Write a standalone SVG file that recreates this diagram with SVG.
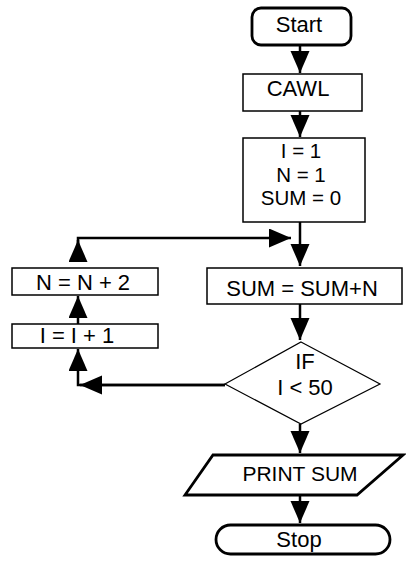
<svg xmlns="http://www.w3.org/2000/svg" width="406" height="563" viewBox="0 0 406 563">
<style>
text{font-family:"Liberation Sans",Arial,sans-serif;font-size:22px;fill:#000;text-anchor:middle}
.sm{font-size:20.5px}
.thin{fill:#fff;stroke:#000;stroke-width:1.5}
.thick{fill:#fff;stroke:#000;stroke-width:2.8}
.c{fill:none;stroke:#000;stroke-width:2.5}
</style>
<defs>
<marker id="ah" markerUnits="userSpaceOnUse" markerWidth="24" markerHeight="20" refX="22" refY="9.5" orient="auto">
<path d="M0,0 L22,9.5 L0,19 z" fill="#000"/>
</marker>
</defs>
<rect width="406" height="563" fill="#fff"/>
<g id="connectors">
<line class="c" x1="300" y1="45" x2="300" y2="73" marker-end="url(#ah)"/>
<line class="c" x1="300" y1="111" x2="300" y2="137" marker-end="url(#ah)"/>
<line class="c" x1="300" y1="222" x2="300" y2="266" marker-end="url(#ah)"/>
<polyline class="c" points="78,262 78,238 291,238" marker-end="url(#ah)"/>
<line class="c" x1="78" y1="262" x2="78" y2="240" marker-end="url(#ah)"/>
<line class="c" x1="78" y1="324" x2="78" y2="296" marker-end="url(#ah)"/>
<polyline class="c" points="225,385 78,385 78,349" marker-end="url(#ah)"/>
<line class="c" x1="225" y1="385" x2="80" y2="385" marker-end="url(#ah)"/>
<line class="c" x1="300" y1="304" x2="300" y2="340" marker-end="url(#ah)"/>
<line class="c" x1="300" y1="424" x2="300" y2="453" marker-end="url(#ah)"/>
<line class="c" x1="300" y1="495" x2="300" y2="523" marker-end="url(#ah)"/>
</g>
<g id="start">
<rect class="thick" x="252" y="8" width="99" height="37" rx="9"/>
<text x="299" y="32">Start</text>
</g>
<g id="cawl">
<rect class="thin" x="243" y="74" width="119" height="37"/>
<text x="298" y="96">CAWL</text>
</g>
<g id="init">
<rect class="thin" x="243" y="138" width="122" height="84"/>
<text class="sm" x="301" y="158">I = 1</text>
<text class="sm" x="301" y="181.5">N = 1</text>
<text class="sm" x="301" y="205">SUM = 0</text>
</g>
<g id="sum">
<rect class="thin" x="207" y="268" width="195" height="36"/>
<text x="302" y="296">SUM = SUM+N</text>
</g>
<g id="nplus">
<rect class="thin" x="12" y="268" width="146" height="27"/>
<text x="83" y="290">N = N + 2</text>
</g>
<g id="iplus">
<rect class="thin" x="12" y="324" width="146" height="24"/>
<text x="77" y="343">I = I + 1</text>
</g>
<g id="if">
<polygon class="thin" points="301,342 380,384 301,424 225,384" style="stroke-width:1.2"/>
<text x="305" y="369">IF</text>
<text x="305" y="395">I &lt; 50</text>
</g>
<g id="print">
<polygon class="thick" points="213,455 403,455 357,495 185,495"/>
<text x="300" y="481" style="font-size:21px">PRINT SUM</text>
</g>
<g id="stop">
<rect class="thick" x="216" y="525" width="174" height="29" rx="14.5"/>
<text x="299" y="547">Stop</text>
</g>
</svg>
